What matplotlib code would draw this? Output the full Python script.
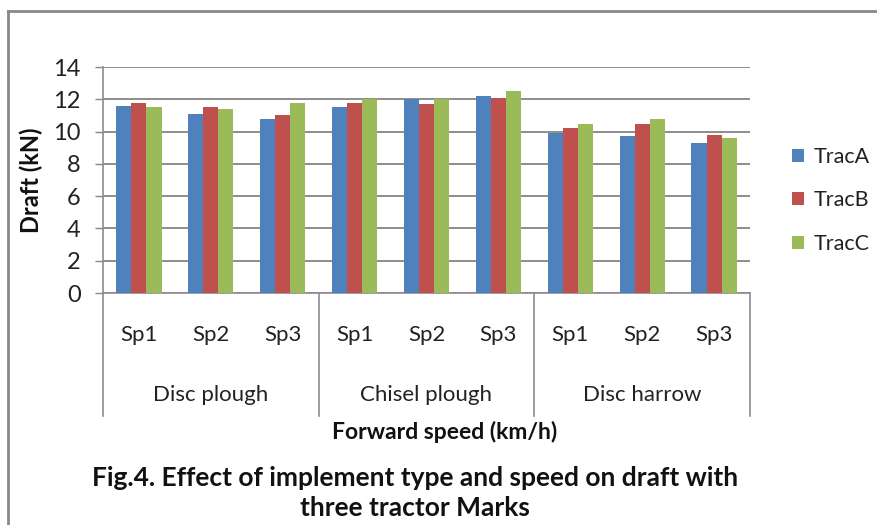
import matplotlib
matplotlib.use("Agg")
import matplotlib.pyplot as plt
import numpy as np
from matplotlib.lines import Line2D

plt.rcParams['font.family'] = ['Lato', 'DejaVu Sans']

implements = ["Disc plough", "Chisel plough", "Disc harrow"]
speeds = ["Sp1", "Sp2", "Sp3"]
series_names = ["TracA", "TracB", "TracC"]
trac_a = [11.6, 11.1, 10.8, 11.5, 12.0, 12.2, 9.9, 9.7, 9.3]
trac_b = [11.8, 11.5, 11.0, 11.8, 11.7, 12.1, 10.2, 10.5, 9.8]
trac_c = [11.5, 11.4, 11.8, 12.0, 12.0, 12.5, 10.5, 10.8, 9.6]
colors = ["#4F81BD", "#C0504D", "#9BBB59"]
y_ticks = [0, 2, 4, 6, 8, 10, 12, 14]

W, H = 878, 525
fig = plt.figure(figsize=(W / 100, H / 100), dpi=100)
fig.patch.set_facecolor("white")

left, right, top, bottom = 103, 750, 67, 293
ax = fig.add_axes([left / W, 1 - bottom / H, (right - left) / W, (bottom - top) / H])

n = len(trac_a)
x = np.arange(n)
bw = 0.21
for i, (vals, c, name) in enumerate(zip([trac_a, trac_b, trac_c], colors, series_names)):
    ax.bar(x + (i - 1) * bw, vals, width=bw, color=c, label=name, zorder=3, linewidth=0)

ax.set_xlim(-0.5, n - 0.5)
ax.set_ylim(0, 14)
ax.set_yticks(y_ticks)
ax.set_yticklabels([str(t) for t in y_ticks], fontsize=17, color="#222222")
ax.tick_params(axis='y', length=6, width=1, color="#888888", pad=10, direction='out')
ax.set_xticks([])
ax.yaxis.grid(True, color="#858585", linewidth=1.3, zorder=0)
ax.set_axisbelow(True)
for s in ["top", "right"]:
    ax.spines[s].set_visible(False)
for s in ["left", "bottom"]:
    ax.spines[s].set_color("#8c8c8c")
    ax.spines[s].set_linewidth(1.2)

tr = ax.get_xaxis_transform()
ph = bottom - top
sep_y = -(416 - bottom) / ph
for xs in [-0.5, 2.5, 5.5, 8.5]:
    ax.add_line(Line2D([xs, xs], [0, sep_y], transform=tr, color="#8c8c8c", linewidth=1.2, clip_on=False))

sp_y = -(335 - bottom) / ph
grp_y = -(395 - bottom) / ph
for k in range(n):
    ax.text(x[k], sp_y, speeds[k % 3], transform=tr, ha='center', va='center', fontsize=16, color="#222222")
for g, name in enumerate(implements):
    ax.text(3 * g + 1, grp_y, name, transform=tr, ha='center', va='center', fontsize=16, color="#222222")

fig.text(445 / W, 1 - 432 / H, "Forward speed (km/h)", ha='center', va='center', fontsize=16.5, fontweight='bold', color="#111111")
fig.text(31 / W, 1 - 180 / H, "Draft (kN)", ha='center', va='center', rotation=90, fontsize=17, fontweight='bold', color="#111111")
fig.text(415 / W, 1 - 478 / H, "Fig.4. Effect of implement type and speed on draft with", ha='center', va='center', fontsize=19, fontweight='bold', color="#111111")
fig.text(415 / W, 1 - 508 / H, "three tractor Marks", ha='center', va='center', fontsize=19, fontweight='bold', color="#111111")

leg = ax.legend(loc='center left', bbox_to_anchor=(1.035, 0.41), frameon=False, fontsize=15.5,
                handlelength=0.55, handleheight=0.55, handletextpad=0.45, labelspacing=1.1)
for t in leg.get_texts():
    t.set_color("#222222")

# outer frame (left and top edges visible)
fig.add_artist(Line2D([8 / W, 8 / W], [0, 1 - 11 / H], transform=fig.transFigure, color="#888888", linewidth=2))
fig.add_artist(Line2D([8 / W, 1], [1 - 11 / H, 1 - 11 / H], transform=fig.transFigure, color="#888888", linewidth=2))

fig.savefig("out.png", dpi=100, facecolor="white")
